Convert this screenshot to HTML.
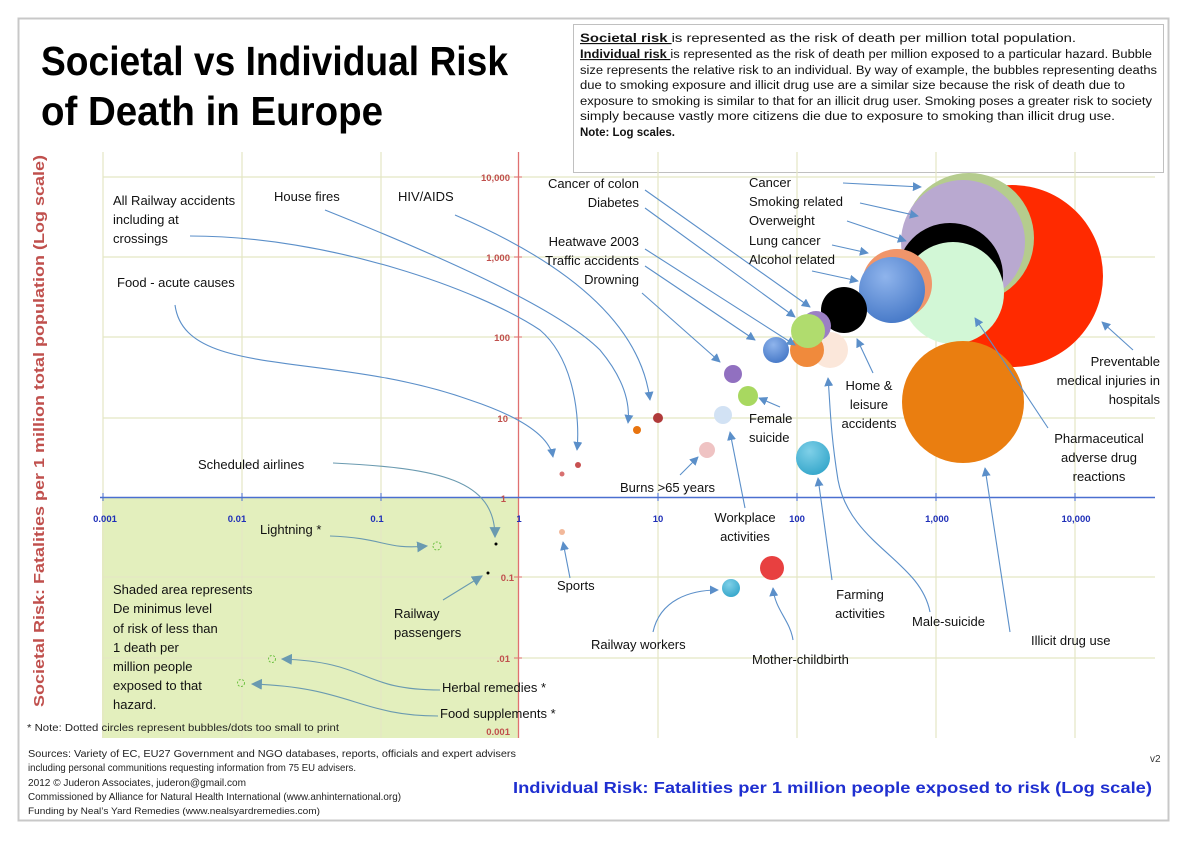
<!DOCTYPE html>
<html><head><meta charset="utf-8"><style>
html,body{margin:0;padding:0;background:#fff}
svg{display:block}
text{font-family:"Liberation Sans",sans-serif}
.l{font-size:13px;fill:#111}
.bx{font-size:11.5px;fill:#111}
.yt{font-size:9.5px;font-weight:bold;fill:#c0504d}
.xt{font-size:9.5px;font-weight:bold;fill:#1f2fb8}
.s{font-size:10.5px;fill:#222}
</style></head><body>
<svg width="1191" height="842" viewBox="0 0 1191 842" xmlns="http://www.w3.org/2000/svg">
<defs>
<marker id="a" viewBox="0 0 10 10" refX="9" refY="5" markerWidth="9" markerHeight="9" orient="auto" markerUnits="userSpaceOnUse"><path d="M0,0 L10,5 L0,10 z" fill="#5b8fc9"/></marker>
<marker id="b" viewBox="0 0 10 10" refX="9" refY="5" markerWidth="11" markerHeight="11" orient="auto" markerUnits="userSpaceOnUse"><path d="M0,0 L10,5 L0,10 z" fill="#6a9ab0"/></marker>
<radialGradient id="gb" cx="0.4" cy="0.3" r="0.8"><stop offset="0" stop-color="#8fb4ec"/><stop offset="1" stop-color="#3f73c4"/></radialGradient>
<radialGradient id="gt" cx="0.4" cy="0.3" r="0.8"><stop offset="0" stop-color="#7fd0e8"/><stop offset="1" stop-color="#2fa3c8"/></radialGradient>
</defs>
<rect x="18.5" y="18.5" width="1150" height="802" fill="#fff" stroke="#c8c8c8" stroke-width="2"/>
<!-- title -->
<text x="41" y="75" font-size="41" font-weight="bold" fill="#000" textLength="467" lengthAdjust="spacingAndGlyphs">Societal vs Individual Risk</text>
<text x="41" y="125" font-size="41" font-weight="bold" fill="#000" textLength="342" lengthAdjust="spacingAndGlyphs">of Death in Europe</text>
<!-- info box -->
<rect x="573.5" y="24.5" width="590" height="148" fill="#fff" stroke="#c0c0c0"/>
<text class="bx" x="580" y="42" textLength="496" lengthAdjust="spacingAndGlyphs"><tspan font-weight="bold" text-decoration="underline">Societal risk </tspan>is represented as the risk of death per million total population.</text>
<text class="bx" x="580" y="58" textLength="572" lengthAdjust="spacingAndGlyphs"><tspan font-weight="bold" text-decoration="underline">Individual risk </tspan>is represented as the risk of death per million exposed to a particular hazard. Bubble</text>
<text class="bx" x="580" y="74" textLength="577" lengthAdjust="spacingAndGlyphs">size represents the relative risk to an individual. By way of example, the bubbles representing deaths</text>
<text class="bx" x="580" y="89" textLength="545" lengthAdjust="spacingAndGlyphs">due to smoking exposure and illicit drug use are a similar size because the risk of death due to</text>
<text class="bx" x="580" y="105" textLength="572" lengthAdjust="spacingAndGlyphs">exposure to smoking is similar to that for an illicit drug user. Smoking poses a greater risk to society</text>
<text class="bx" x="580" y="120" textLength="535" lengthAdjust="spacingAndGlyphs">simply because vastly more citizens die due to exposure to smoking than illicit drug use.</text>
<text class="bx" x="580" y="136" font-weight="bold" textLength="95" lengthAdjust="spacingAndGlyphs">Note: Log scales.</text>
<!-- shaded -->
<rect x="102" y="497" width="416" height="241" fill="#e3efbd"/>
<!-- grid -->
<g stroke="#e4e6c4" stroke-width="1.2">
<line x1="103" y1="152" x2="103" y2="738"/><line x1="242" y1="152" x2="242" y2="738"/><line x1="381" y1="152" x2="381" y2="738"/>
<line x1="658" y1="152" x2="658" y2="738"/><line x1="797" y1="152" x2="797" y2="738"/><line x1="936" y1="152" x2="936" y2="738"/><line x1="1075" y1="152" x2="1075" y2="738"/>
<line x1="103" y1="177" x2="1155" y2="177"/><line x1="103" y1="257" x2="1155" y2="257"/><line x1="103" y1="337" x2="1155" y2="337"/><line x1="103" y1="418" x2="1155" y2="418"/>
<line x1="103" y1="577" x2="1155" y2="577"/><line x1="103" y1="658" x2="1155" y2="658"/>
</g>
<line x1="518.5" y1="152" x2="518.5" y2="738" stroke="#e07070" stroke-width="1.3"/>
<line x1="100" y1="497.5" x2="1155" y2="497.5" stroke="#4a6fd0" stroke-width="1.5"/>
<g stroke="#4a6fd0"><line x1="103" y1="493" x2="103" y2="501"/><line x1="242" y1="493" x2="242" y2="501"/><line x1="381" y1="493" x2="381" y2="501"/><line x1="658" y1="493" x2="658" y2="501"/><line x1="797" y1="493" x2="797" y2="501"/><line x1="936" y1="493" x2="936" y2="501"/><line x1="1075" y1="493" x2="1075" y2="501"/></g>
<g stroke="#e07070"><line x1="514" y1="177" x2="522" y2="177"/><line x1="514" y1="257" x2="522" y2="257"/><line x1="514" y1="337" x2="522" y2="337"/><line x1="514" y1="418" x2="522" y2="418"/><line x1="514" y1="577" x2="522" y2="577"/><line x1="514" y1="658" x2="522" y2="658"/></g>
<!-- tick labels -->
<g class="xt" text-anchor="middle"><text x="105" y="522">0.001</text><text x="237" y="522">0.01</text><text x="377" y="522">0.1</text><text x="519" y="522">1</text><text x="658" y="522">10</text><text x="797" y="522">100</text><text x="937" y="522">1,000</text><text x="1076" y="522">10,000</text></g>
<g class="yt" text-anchor="end"><text x="510" y="181">10,000</text><text x="510" y="261">1,000</text><text x="510" y="341">100</text><text x="508" y="422">10</text><text x="506" y="502">1</text><text x="514" y="581">0.1</text><text x="510" y="662">.01</text><text x="510" y="735">0.001</text></g>
<!-- axis titles -->
<text transform="translate(44,431) rotate(-90)" text-anchor="middle" font-size="15" font-weight="bold" fill="#c0504d" textLength="552" lengthAdjust="spacingAndGlyphs">Societal Risk: Fatalities per 1 million total population (Log scale)</text>
<text x="513" y="793" font-size="15.5" font-weight="bold" fill="#1f2fd0" textLength="639" lengthAdjust="spacingAndGlyphs">Individual Risk: Fatalities per 1 million people exposed to risk (Log scale)</text>
<text x="1150" y="762" font-size="10" fill="#333">v2</text>
<!-- bubbles -->
<circle cx="1012" cy="276" r="91" fill="#ff2a00"/>
<circle cx="969" cy="238" r="65" fill="#b5cc8e"/>
<circle cx="963" cy="242" r="62" fill="#b9a9d0"/>
<circle cx="950" cy="276" r="53" fill="#000"/>
<circle cx="953" cy="293" r="51" fill="#d2f7d6"/>
<circle cx="897" cy="284" r="35" fill="#f0956a"/>
<circle cx="892" cy="290" r="33" fill="url(#gb)"/>
<circle cx="844" cy="310" r="23" fill="#000"/>
<circle cx="963" cy="402" r="61" fill="#ea7e10"/>
<circle cx="830" cy="350" r="18" fill="#fbe7da"/>
<circle cx="807" cy="350" r="17" fill="#f08a3c"/>
<circle cx="816" cy="326" r="15" fill="#9b7fc4"/>
<circle cx="808" cy="331" r="17" fill="#b0dc6e"/>
<circle cx="776" cy="350" r="13" fill="url(#gb)"/>
<circle cx="733" cy="374" r="9" fill="#9170c0"/>
<circle cx="748" cy="396" r="10" fill="#a8d860"/>
<circle cx="723" cy="415" r="9" fill="#d2e2f4"/>
<circle cx="707" cy="450" r="8" fill="#efc3c3"/>
<circle cx="813" cy="458" r="17" fill="url(#gt)"/>
<circle cx="658" cy="418" r="5" fill="#b03a3a"/>
<circle cx="637" cy="430" r="4" fill="#e8740f"/>
<circle cx="562" cy="474" r="2.5" fill="#d87070"/>
<circle cx="578" cy="465" r="3" fill="#c85050"/>
<circle cx="562" cy="532" r="3" fill="#f2b89a"/>
<circle cx="731" cy="588" r="9" fill="url(#gt)"/>
<circle cx="772" cy="568" r="12" fill="#e84040"/>
<circle cx="496" cy="544" r="1.5" fill="#000"/>
<circle cx="488" cy="573" r="1.5" fill="#000"/>
<g fill="none" stroke="#6cc040" stroke-dasharray="2,1.5"><circle cx="437" cy="546" r="4"/><circle cx="272" cy="659" r="3.5"/><circle cx="241" cy="683" r="3.5"/></g>
<!-- arrows -->
<g fill="none" stroke="#5b8fc9" stroke-width="1.1" marker-end="url(#a)">
<path d="M175,305 C185,380 330,350 470,400 C530,420 550,440 553,457"/>
<path d="M190,236 C330,236 480,290 540,330 C575,360 580,420 577,450"/>
<path d="M325,210 C450,260 560,310 600,350 C625,380 630,405 628,423"/>
<path d="M455,215 C560,260 640,320 650,400"/>
<path d="M645,190 L810,307"/><path d="M645,208 L795,317"/><path d="M645,249 L795,345"/><path d="M645,266 L755,340"/><path d="M642,293 L720,362"/>
<path d="M843,183 L921,187"/><path d="M860,203 L918,216"/><path d="M847,221 L906,241"/><path d="M832,245 L868,253"/><path d="M812,271 L858,281"/>
<path d="M1133,350 L1102,322"/><path d="M873,373 L857,339"/><path d="M1048,428 L975,318"/>
<path d="M930,612 C920,560 850,545 838,480 C830,430 830,400 828,378"/>
<path d="M1010,632 L985,468"/><path d="M780,407 L759,398"/><path d="M745,508 L730,432"/><path d="M680,475 L698,457"/><path d="M832,580 L818,478"/>
<path d="M653,632 C660,600 690,590 718,590"/><path d="M793,640 C790,620 775,610 773,588"/><path d="M570,578 L563,542"/>
</g>
<g fill="none" stroke="#6a9ab0" stroke-width="1.1" marker-end="url(#b)">
<path d="M333,463 C440,468 495,480 495,537"/>
<path d="M330,536 C385,538 385,550 427,546"/>
<path d="M443,600 L482,576"/>
<path d="M440,690 C360,690 370,662 282,659"/>
<path d="M438,716 C360,716 350,687 252,684"/>
</g>
<!-- labels -->
<g class="l">
<text x="113" y="205">All Railway accidents</text><text x="113" y="224">including at</text><text x="113" y="243">crossings</text>
<text x="274" y="201">House fires</text><text x="398" y="201">HIV/AIDS</text>
<text x="117" y="287">Food - acute causes</text>
<g text-anchor="end"><text x="639" y="188">Cancer of colon</text><text x="639" y="207">Diabetes</text><text x="639" y="246">Heatwave 2003</text><text x="639" y="265">Traffic accidents</text><text x="639" y="284">Drowning</text>
<text x="1160" y="366">Preventable</text><text x="1160" y="385">medical injuries in</text><text x="1160" y="404">hospitals</text></g>
<text x="749" y="187">Cancer</text><text x="749" y="206">Smoking related</text><text x="749" y="225">Overweight</text><text x="749" y="245">Lung cancer</text><text x="749" y="264">Alcohol related</text>
<g text-anchor="middle"><text x="869" y="390">Home &amp;</text><text x="869" y="409">leisure</text><text x="869" y="428">accidents</text>
<text x="1099" y="443">Pharmaceutical</text><text x="1099" y="462">adverse drug</text><text x="1099" y="481">reactions</text>
<text x="745" y="522">Workplace</text><text x="745" y="541">activities</text>
<text x="860" y="599">Farming</text><text x="860" y="618">activities</text></g>
<text x="749" y="423">Female</text><text x="749" y="442">suicide</text>
<text x="620" y="492">Burns &gt;65 years</text>
<text x="198" y="469">Scheduled airlines</text>
<text x="260" y="534">Lightning *</text>
<text x="557" y="590">Sports</text>
<text x="912" y="626">Male-suicide</text>
<text x="1031" y="645">Illicit drug use</text>
<text x="591" y="649">Railway workers</text>
<text x="752" y="664">Mother-childbirth</text>
<text x="394" y="618">Railway</text><text x="394" y="637">passengers</text>
<text x="113" y="594">Shaded area represents</text><text x="113" y="613">De minimus level</text><text x="113" y="633">of risk of less than</text><text x="113" y="652">1 death per</text><text x="113" y="671">million people</text><text x="113" y="690">exposed to that</text><text x="113" y="709">hazard.</text>
<text x="442" y="692">Herbal remedies *</text>
<text x="440" y="718">Food supplements *</text>
</g>
<text x="27" y="731" font-size="10.5" fill="#222" textLength="312" lengthAdjust="spacingAndGlyphs">* Note: Dotted circles represent bubbles/dots too small to print</text>
<text class="s" x="28" y="757" textLength="488" lengthAdjust="spacingAndGlyphs">Sources: Variety of EC, EU27 Government and NGO databases, reports, officials and expert advisers</text>
<text class="s" x="28" y="771" textLength="328" lengthAdjust="spacingAndGlyphs">including personal communitions requesting information from 75 EU advisers.</text>
<text class="s" x="28" y="786" textLength="218" lengthAdjust="spacingAndGlyphs">2012 © Juderon Associates, juderon@gmail.com</text>
<text class="s" x="28" y="800" textLength="373" lengthAdjust="spacingAndGlyphs">Commissioned by Alliance for Natural Health International (www.anhinternational.org)</text>
<text x="28" y="814" font-size="9.5" fill="#222" textLength="292" lengthAdjust="spacingAndGlyphs">Funding by Neal’s Yard Remedies (www.nealsyardremedies.com)</text>
</svg>
</body></html>
